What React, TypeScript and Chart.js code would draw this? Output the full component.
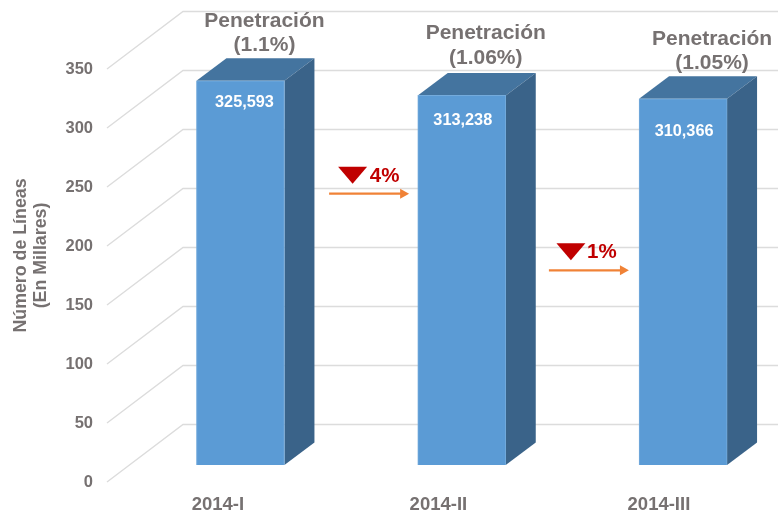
import React, { useEffect, useRef } from "react";
import { Chart, registerables } from "chart.js";

Chart.register(...registerables);

const categories = ["2014-I", "2014-II", "2014-III"];
const lines = [325.593, 313.238, 310.366];
const penetration = ["(1.1%)", "(1.06%)", "(1.05%)"];
const drops = ["4%", "1%"];
const dropLevels = [230, 165];
const yTicks = [0, 50, 100, 150, 200, 250, 300, 350];
const axisTitle = ["Número de Líneas", "(En Millares)"];

const GREY = "#767171";
const FONT = '"Liberation Sans", Arial, sans-serif';
const FRONT = "#5b9bd5";
const TOP = "#44749f";
const SIDE = "#3a6389";
const DEPTH_X = 30;
const DEPTH_Y = 22.5;
const labelNudge = [
  { valueDx: 4, valueDy: 22, penDx: 24, penDy: -60 },
  { valueDx: 1, valueDy: 25, penDx: 24, penDy: -62 },
  { valueDx: 1, valueDy: 33, penDx: 29, penDy: -60 },
];
const dropNudge = [
  { arrow: 0, mark: 0, text: 15.5 },
  { arrow: -1.5, mark: -3, text: 11.5 },
];

const fmt = (v: number) => Math.round(v * 1000).toLocaleString("en-US");

const scene3d = {
  id: "scene3d",
  beforeDatasetsDraw(chart: any) {
    const { ctx, scales } = chart;
    const yv = scales.y;
    ctx.save();
    // perspective floor/wall gridlines
    ctx.strokeStyle = "#dcdcdc";
    ctx.lineWidth = 1.4;
    yTicks.forEach((t) => {
      const y = yv.getPixelForValue(t);
      ctx.beginPath();
      ctx.moveTo(chart.chartArea.left, y);
      ctx.lineTo(chart.chartArea.left + 76, y - 57.5);
      ctx.lineTo(chart.width, y - 57.5);
      ctx.stroke();
    });
    // bar depth faces
    const meta = chart.getDatasetMeta(0);
    meta.data.forEach((el: any) => {
      const half = el.width / 2;
      const l = el.x - half;
      const r = el.x + half;
      const t = el.y;
      const b = el.base;
      ctx.fillStyle = TOP;
      ctx.beginPath();
      ctx.moveTo(l, t);
      ctx.lineTo(l + DEPTH_X, t - DEPTH_Y);
      ctx.lineTo(r + DEPTH_X, t - DEPTH_Y);
      ctx.lineTo(r, t);
      ctx.closePath();
      ctx.fill();
      ctx.fillStyle = SIDE;
      ctx.beginPath();
      ctx.moveTo(r, t);
      ctx.lineTo(r + DEPTH_X, t - DEPTH_Y);
      ctx.lineTo(r + DEPTH_X, b - DEPTH_Y);
      ctx.lineTo(r, b);
      ctx.closePath();
      ctx.fill();
    });
    ctx.restore();
  },
  afterDatasetsDraw(chart: any) {
    const { ctx, scales } = chart;
    const meta = chart.getDatasetMeta(0);
    ctx.save();
    ctx.textAlign = "center";
    ctx.textBaseline = "middle";
    meta.data.forEach((el: any, i: number) => {
      const n = labelNudge[i];
      ctx.fillStyle = "#ffffff";
      ctx.font = `bold 16.3px ${FONT}`;
      ctx.fillText(fmt(lines[i]), el.x + n.valueDx, el.y + n.valueDy);
      ctx.fillStyle = GREY;
      ctx.font = `bold 21px ${FONT}`;
      ctx.fillText("Penetración", el.x + n.penDx, el.y + n.penDy);
      ctx.fillText(penetration[i], el.x + n.penDx, el.y + n.penDy + 24.5);
    });
    // change arrows between the bars
    drops.forEach((txt, i) => {
      const cx = scales.xBar.getPixelForValue(i + 0.5) + 18;
      const y = scales.yBar.getPixelForValue(dropLevels[i]);
      const nudge = dropNudge[i];
      const ax = cx + nudge.arrow;
      const mx = cx + nudge.mark;
      ctx.strokeStyle = "#f08236";
      ctx.fillStyle = "#f08236";
      ctx.lineWidth = 2.2;
      ctx.beginPath();
      ctx.moveTo(ax - 40, y);
      ctx.lineTo(ax + 36, y);
      ctx.stroke();
      ctx.beginPath();
      ctx.moveTo(ax + 31, y - 5);
      ctx.lineTo(ax + 40, y);
      ctx.lineTo(ax + 31, y + 5);
      ctx.closePath();
      ctx.fill();
      ctx.fillStyle = "#c00000";
      ctx.beginPath();
      ctx.moveTo(mx - 31, y - 27);
      ctx.lineTo(mx - 2, y - 27);
      ctx.lineTo(mx - 16.5, y - 10);
      ctx.closePath();
      ctx.fill();
      ctx.font = `bold 20.5px ${FONT}`;
      ctx.fillText(txt, cx + nudge.text, y - 17.5);
    });
    // two-line rotated axis title
    ctx.fillStyle = GREY;
    ctx.font = `bold 17.8px ${FONT}`;
    axisTitle.forEach((line, i) => {
      ctx.save();
      ctx.translate(21 + i * 20, 255.5);
      ctx.rotate(-Math.PI / 2);
      ctx.fillText(line, 0, 0);
      ctx.restore();
    });
    ctx.restore();
  },
};

export default function App() {
  const ref = useRef<HTMLCanvasElement>(null);
  useEffect(() => {
    const chart = new Chart(ref.current as HTMLCanvasElement, {
      type: "bar",
      data: {
        datasets: [
          {
            data: lines.map((y, x) => ({ x, y })) as any,
            xAxisID: "xBar",
            yAxisID: "yBar",
            backgroundColor: FRONT,
            borderColor: "#74abdc",
            borderWidth: 1,
            barThickness: 88,
            clip: false,
          } as any,
        ],
      },
      options: {
        responsive: false,
        animation: false,
        layout: { padding: { top: 69, bottom: 0, left: 0, right: 0 } },
        plugins: { legend: { display: false }, tooltip: { enabled: false } },
        scales: {
          x: {
            type: "linear",
            position: "bottom",
            offset: false,
            min: -0.503,
            max: 2.54,
            afterBuildTicks: (s: any) => {
              s.ticks = categories.map((_, value) => ({ value }));
            },
            afterFit: (s: any) => {
              s.height = 31;
            },
            grid: { display: false, drawTicks: false },
            border: { display: false },
            ticks: {
              callback: (v: any) => categories[v],
              autoSkip: false,
              maxRotation: 0,
              padding: 12,
              color: GREY,
              font: { family: FONT, size: 18.5, weight: "bold" },
            },
          },
          xBar: { type: "linear", display: false, offset: false, min: -0.603, max: 2.429 },
          y: {
            type: "linear",
            position: "left",
            min: 0,
            max: 350,
            afterBuildTicks: (s: any) => {
              s.ticks = yTicks.map((value) => ({ value }));
            },
            afterFit: (s: any) => {
              s.width = 107;
            },
            grid: { display: false, drawTicks: false },
            border: { display: false },
            ticks: {
              padding: 14,
              color: GREY,
              font: { family: FONT, size: 16.5, weight: "bold" },
            },
          },
          yBar: { type: "linear", display: false, min: -14.37, max: 335.63 },
        },
      } as any,
      plugins: [scene3d],
    });
    return () => chart.destroy();
  }, []);
  return (
    <div style={{ position: "absolute", left: 0, top: 0, width: 778, height: 513, background: "#fff" }}>
      <canvas ref={ref} width={778} height={513} style={{ display: "block" }} />
    </div>
  );
}
